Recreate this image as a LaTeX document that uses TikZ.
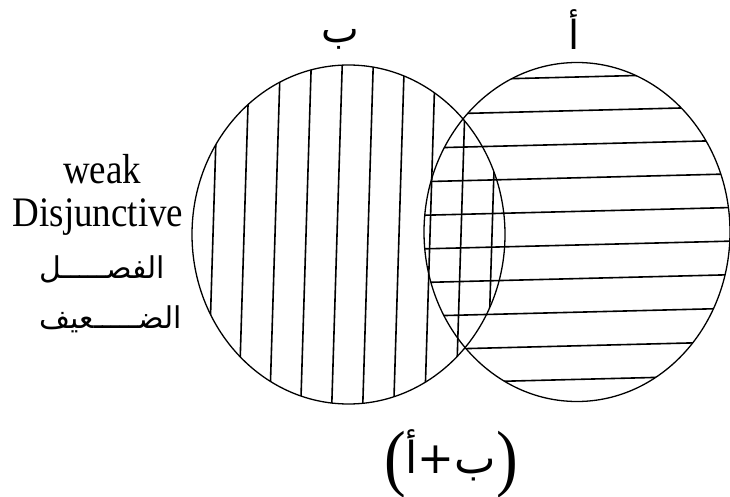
\documentclass[tikz,border=0pt]{standalone}
\usepackage{fontspec}
\setmainfont{Liberation Serif}[FakeStretch=0.88]
\newfontfamily\arabicfont[Script=Arabic]{DejaVu Sans}
\TeXXeTstate=1
\usepackage{tikz}

\begin{document}
\begin{tikzpicture}[x=1pt,y=-1pt,
  rim/.style={line width=1.3pt},
  hatch/.style={line width=1.6pt},
  latin/.style={anchor=base,font=\fontsize{42}{42}\selectfont},
  arab/.style={anchor=base west,font=\arabicfont\fontsize{30}{30}\selectfont},
  setname/.style={anchor=base,font=\arabicfont\fontsize{40}{40}\selectfont}]
\useasboundingbox (0,0) rectangle (730,497);
\coordinate (B) at (348.5,234.5);
\coordinate (A) at (577,232);
% vertical hatching of set B
\begin{scope}
\clip (B) ellipse [x radius=156.5pt,y radius=169.5pt];
\foreach \i in {0,...,9}
  \draw[hatch] ({219+31*\i},40) -- ({207+31*\i},430);
\end{scope}
% horizontal hatching of set A
\begin{scope}
\clip (A) ellipse [x radius=153pt,y radius=169.5pt];
\foreach \i in {0,...,9}
  \draw[hatch] (410,{81.2+33.6*\i}) -- (740,{72.9+33.6*\i});
\end{scope}
\draw[rim] (B) ellipse [x radius=156.5pt,y radius=169.5pt];
\draw[rim] (A) ellipse [x radius=153pt,y radius=169.5pt];
% labels
\node[setname] (nameB) at (340,43) {ب};
\node[setname] (nameA) at (574,50) {أ};
\node[latin] (weak) at (102,183) {weak};
\node[latin] (disj) at (98,226) {Disjunctive};
\node[arab] (fasl) at (36,278) {\beginR الفصـــــل\endR};
\node[arab] (daif) at (36,328) {\beginR الضـــــعيف\endR};
\node[anchor=base] (sum) at (451,482)
  {\fontsize{74}{74}\selectfont(\raisebox{9pt}{\arabicfont\fontsize{44}{44}\selectfont
   \mbox{أ}\mbox{+}\mbox{ب}})};
\end{tikzpicture}
\end{document}
